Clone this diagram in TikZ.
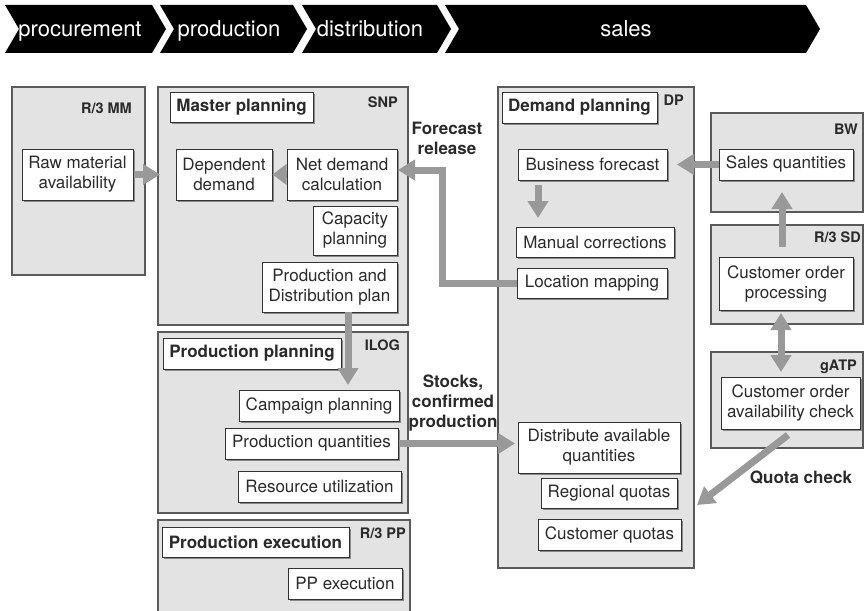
\documentclass[tikz,border=0pt]{standalone}
\usepackage{fontspec}
\setmainfont{TeX Gyre Heros}
\usetikzlibrary{arrows.meta,shadows,calc}
\definecolor{cfill}{HTML}{E3E3E3}
\definecolor{cborder}{HTML}{5A5A5A}
\definecolor{wborder}{HTML}{333333}
\definecolor{shadowc}{HTML}{8A8A8A}
\definecolor{arrowc}{HTML}{999999}
\definecolor{txt}{HTML}{2A2A2A}
% style, name, x1, y1, x2, y2, text
\newcommand\boxat[7]{%
  \node[#1, minimum width={(#5)-(#3)}, minimum height={(#6)-(#4)}] (#2)
    at ({((#3)+(#5))/2},{((#4)+(#6))/2}) {#7};}
\begin{document}
\begin{tikzpicture}[x=1pt,y=-1pt,
  cont/.style={fill=cfill, draw=cborder, line width=1.2pt, inner sep=0pt},
  wbox/.style={draw=wborder, fill=white, line width=1pt, inner sep=0pt, align=center,
    font=\fontsize{17}{20}\selectfont, text=txt,
    drop shadow={shadow xshift=2pt, shadow yshift=-2pt, fill=shadowc, opacity=1}},
  bbox/.style={wbox, font=\bfseries\fontsize{17}{20}\selectfont},
  tag/.style={font=\bfseries\fontsize{14.5}{17}\selectfont, text=txt, inner sep=0pt, anchor=east},
  flab/.style={font=\bfseries\fontsize{17}{20}\selectfont, align=center, text=txt, inner sep=0pt},
  chev/.style={fill=black},
  chevtext/.style={font=\fontsize{22}{26}\selectfont, text=white, inner sep=0pt, anchor=base},
  garrow/.style={draw=arrowc, line width=7pt, -{Triangle[length=17pt,width=20pt]}},
  garrowshort/.style={draw=arrowc, line width=7pt, -{Triangle[length=14pt,width=20pt]}},
  gdouble/.style={draw=arrowc, line width=7pt, {Triangle[length=17pt,width=20pt]}-{Triangle[length=17pt,width=20pt]}}
]
\useasboundingbox (0,0) rectangle (864,610);

% header chevrons
\fill[chev] (5,5) -- (152,5) -- (166,29) -- (152,53) -- (5,53) -- (19,29) -- cycle;
\fill[chev] (160,5) -- (293,5) -- (307,29) -- (293,53) -- (160,53) -- (174,29) -- cycle;
\fill[chev] (302,5) -- (437,5) -- (451,29) -- (437,53) -- (302,53) -- (316,29) -- cycle;
\fill[chev] (445,5) -- (806,5) -- (820,29) -- (806,53) -- (445,53) -- (459,29) -- cycle;
\node[chevtext] (hproc) at (80,37) {procurement};
\node[chevtext] (hprod) at (229,37) {production};
\node[chevtext] (hdist) at (370,37) {distribution};
\node[chevtext] (hsales) at (626,37) {sales};

% containers
\boxat{cont}{mm}{12}{87}{145}{275}{}
\boxat{cont}{snp}{158}{87}{408}{325}{}
\boxat{cont}{ilog}{158}{332}{408}{513}{}
\fill[cfill] (158,520) rectangle (410,612);
\draw[cborder, line width=1.2pt] (158,612) -- (158,520) -- (410,520) -- (410,612);
\boxat{cont}{dp}{498}{87}{694}{568}{}
\boxat{cont}{bw}{711}{113}{863}{212}{}
\boxat{cont}{sd}{711}{225}{863}{324}{}
\boxat{cont}{gatp}{711}{352}{863}{448}{}

% tags
\node[tag] (tmm) at (132,108) {R/3 MM};
\node[tag] (tsnp) at (398,102) {SNP};
\node[tag] (tilog) at (400,345) {ILOG};
\node[tag] (tpp) at (406,533) {R/3 PP};
\node[tag] (tdp) at (684,100) {DP};
\node[tag] (tbw) at (858,129) {BW};
\node[tag] (tsd) at (861,237) {R/3 SD};
\node[tag] (tgatp) at (857,367) {gATP};

% white boxes
\boxat{wbox}{raw}{22}{149}{133}{200}{Raw material\\availability}
\boxat{bbox}{master}{170}{92}{313}{122}{Master planning}
\boxat{wbox}{dep}{176}{149}{272}{200}{Dependent\\demand}
\boxat{wbox}{net}{287}{149}{397}{200}{Net demand\\calculation}
\boxat{wbox}{cap}{313}{206}{397}{255}{Capacity\\planning}
\boxat{wbox}{pdp}{262}{262}{397}{312}{Production and\\Distribution plan}
\boxat{bbox}{pplan}{163}{338}{341}{369}{Production planning}
\boxat{wbox}{camp}{239}{390}{399}{421}{Campaign planning}
\boxat{wbox}{pq}{225}{428}{398}{459}{Production quantities}
\boxat{wbox}{ru}{238}{471}{401}{502}{Resource utilization}
\boxat{bbox}{pexec}{162}{527}{349}{557}{Production execution}
\boxat{wbox}{ppe}{288}{568}{402}{599}{PP execution}
\boxat{bbox}{dplan}{502}{92}{657}{123}{Demand planning}
\boxat{wbox}{bf}{518}{149}{667}{180}{Business forecast}
\boxat{wbox}{mc}{516}{227}{674}{257}{Manual corrections}
\boxat{wbox}{lm}{517}{268}{667}{298}{Location mapping}
\boxat{wbox}{dist}{518}{422}{680}{473}{Distribute available\\quantities}
\boxat{wbox}{rq}{541}{478}{677}{508}{Regional quotas}
\boxat{wbox}{cq}{538}{519}{681}{550}{Customer quotas}
\boxat{wbox}{sq}{719}{149}{853}{180}{Sales quantities}
\boxat{wbox}{cop}{719}{257}{853}{310}{Customer order\\processing}
\boxat{wbox}{coa}{721}{377}{860}{429}{Customer order\\availability check}

% free labels
\node[flab] (lfr) at (447,138) {Forecast\\release};
\node[flab] (lstock) at (453,403) {Stocks,\\confirmed\\production};
\node[flab] (lquota) at (801,478) {Quota check};

% coordinates for arrow ends
\coordinate (snpin) at (160,174.5);
\coordinate (frc) at (442,170);
\coordinate (fr) at (398,170);
\coordinate (bfin) at (677,164.5);
\coordinate (bfo) at (538,185);
\coordinate (mci) at (538,218);
\coordinate (sdo) at (782,247);
\coordinate (bwi) at (782,192);
\coordinate (sdb) at (781,313);
\coordinate (gat) at (781,372);
\coordinate (qo) at (788,435);
\coordinate (qi) at (697,505);
\coordinate (pdpo) at (348,312);
\coordinate (ilogi) at (348,385);
\coordinate (disti) at (515,443.5);

% arrows
\draw[garrow] (raw.east) -- (snpin);
\draw[garrowshort] (net.west) -- (dep.east);
\draw[garrow] (lm.west) -| (frc) -- (fr);
\draw[garrow] (sq.west) -- (bfin);
\draw[garrow] (bfo) -- (mci);
\draw[garrow] (sdo) -- (bwi);
\draw[gdouble] (sdb) -- (gat);
\draw[garrow] (qo) -- (qi);
\draw[garrow] (pdpo) -- (ilogi);
\draw[garrow] (pq.east) -- (disti);
\end{tikzpicture}
\end{document}
